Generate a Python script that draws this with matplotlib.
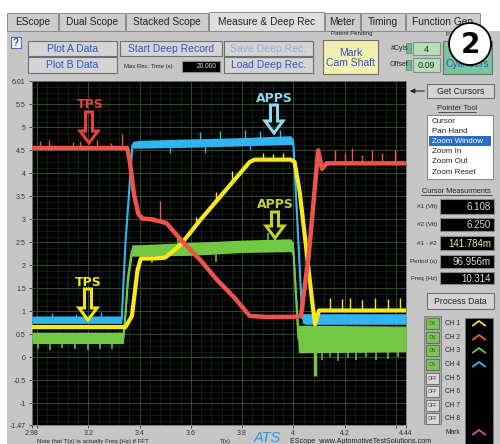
import matplotlib.pyplot as plt
from matplotlib.patches import Rectangle, Circle, Polygon
from matplotlib.ticker import MultipleLocator
import numpy as np

plt.rcParams['font.family'] = ['Liberation Sans', 'DejaVu Sans']

# ---- scope traces: time (s) and volts ----
# CH2 red, TPS signal 1
red_t = [2.98, 3.352, 3.362, 3.378, 3.395, 3.41, 3.45, 3.505, 3.57, 3.64, 3.70, 3.77, 3.83,
         3.90, 4.00, 4.03, 4.06, 4.097, 4.112, 4.13, 4.25, 4.44]
red_v = [4.55, 4.55, 4.25, 3.55, 3.12, 3.02, 3.0, 2.92, 2.5, 2.1, 1.7, 1.3, 0.9,
         0.88, 0.88, 0.9, 2.2, 4.5, 4.1, 4.22, 4.22, 4.22]
red_spk_t = [3.011, 3.046, 3.14, 3.168, 3.234, 3.29, 3.332, 3.48, 4.164, 4.203, 4.23, 4.269, 4.308, 4.347, 4.398]
red_spk_v = [4.7, 4.72, 4.68, 4.7, 4.72, 4.66, 4.85, 3.4, 4.5, 4.45, 4.55, 4.4, 4.5, 4.45, 4.5]

# CH4 blue, APPS signal 1 (noise band low / high)
blue_t = [2.98, 3.33, 3.345, 3.372, 3.40, 3.60, 3.80, 3.99, 4.00, 4.035, 4.05, 4.44]
blue_lo = [0.74, 0.74, 2.5, 4.55, 4.55, 4.57, 4.6, 4.63, 4.6, 0.75, 0.72, 0.72]
blue_hi = [0.9, 0.9, 2.5, 4.7, 4.72, 4.75, 4.78, 4.82, 4.75, 0.95, 0.95, 0.95]
blue_spk_t = [3.06, 3.15, 3.25, 3.52, 3.636, 3.656, 3.714, 3.812, 3.832, 3.87, 3.95]
blue_spk_v = [0.97, 0.95, 0.98, 4.45, 4.9, 4.45, 4.92, 4.95, 4.5, 4.93, 4.95]

# CH1 yellow, TPS signal 2
yel_t = [2.98, 3.345, 3.37, 3.392, 3.405, 3.45, 3.50, 3.56, 3.636, 3.83, 3.85, 3.99, 4.005,
         4.025, 4.05, 4.074, 4.085, 4.1, 4.44]
yel_v = [0.66, 0.66, 0.9, 1.9, 2.15, 2.15, 2.17, 2.45, 2.98, 4.25, 4.3, 4.3, 4.25,
         3.6, 2.4, 1.2, 0.72, 1.02, 1.02]
yel_spk_t = [3.62, 3.70, 3.76, 3.88, 3.92, 3.96, 4.144, 4.191, 4.222, 4.269, 4.32, 4.371, 4.418]
yel_spk_v = [3.05, 3.6, 4.05, 4.45, 4.42, 4.45, 1.3, 1.28, 1.3, 1.25, 1.3, 1.28, 1.3]

# CH3 green, APPS signal 2 (noise band low / high)
grn_t = [2.98, 3.336, 3.342, 3.355, 3.37, 3.40, 3.60, 3.80, 3.99, 4.00, 4.02, 4.035, 4.44]
grn_lo = [0.3, 0.3, 0.6, 1.6, 2.2, 2.2, 2.22, 2.28, 2.3, 2.2, 0.1, 0.1, 0.12]
grn_hi = [0.55, 0.55, 0.9, 1.9, 2.45, 2.45, 2.5, 2.55, 2.58, 2.5, 0.7, 0.7, 0.68]
grn_spk_t = [3.003, 3.05, 3.097, 3.148, 3.199, 3.246, 3.293, 3.45, 3.55, 3.70, 3.90,
             4.085, 4.113, 4.144, 4.175, 4.214, 4.246, 4.285, 4.324, 4.371, 4.41]
grn_spk_v = [0.18, 0.17, 0.2, 0.18, 0.17, 0.19, 0.18, 2.05, 2.62, 2.08, 2.7,
             -0.4, -0.05, 0.0, -0.08, -0.02, -0.06, 0.0, -0.05, -0.03, 0.0]

x_ticks = [2.98, 3.0, 3.2, 3.4, 3.6, 3.8, 4.0, 4.2, 4.4, 4.44]
x_labels = ['2.98', '', '3.2', '3.4', '3.6', '3.8', '4', '4.2', '', '4.44']
y_ticks = [-1.47, -1, -0.5, 0, 0.5, 1, 1.5, 2, 2.5, 3, 3.5, 4, 4.5, 5, 5.5, 6.01]
y_labels = ['-1.47', '-1', '-0.5', '0', '0.5', '1', '1.5', '2', '2.5', '3', '3.5', '4',
            '4.5', '5', '5.5', '6.01']

tabs = ['EScope', 'Dual Scope', 'Stacked Scope', 'Measure & Deep Rec', 'Meter', 'Timing', 'Function Gen']
tab_x = [7, 59, 126, 209, 325, 361, 406, 481]
pointer_items = ['Cursor', 'Pan Hand', 'Zoom Window', 'Zoom In', 'Zoom Out', 'Zoom Reset']
meas_labels = ['#1 (Vlt)', '#2 (Vlt)', '#1 - #2', 'Period (s)', 'Freq (Hz)']
meas_values = ['6.108', '6.250', '141.784m', '96.956m', '10.314']
channels = ['CH 1', 'CH 2', 'CH 3', 'CH 4', 'CH 5', 'CH 6', 'CH 7', 'CH 8']
ch_on = [True, True, True, True, False, False, False, False]
ch_colors = ['#f2e23a', '#ee5a55', '#74c84a', '#3ab8ee']

RED, BLUE, YEL, GRN = '#f0524c', '#2fb6f0', '#f8e81c', '#72c842'
GREY = '#c6c6c6'

W, H = 500, 444
fig = plt.figure(figsize=(5, 4.44), dpi=100)
fig.patch.set_facecolor('white')

bg = fig.add_axes([0, 0, 1, 1], zorder=0)
bg.set_xlim(0, W)
bg.set_ylim(H, 0)
bg.axis('off')
bg.add_patch(Rectangle((7, 31), W - 7, H - 31, fc=GREY, ec='none'))

# ---- scope plot ----
ax = fig.add_axes([32 / W, 19 / H, 374 / W, 344 / H], zorder=1)
ax.set_facecolor('black')
ax.set_xlim(2.98, 4.44)
ax.set_ylim(-1.47, 6.01)
ax.set_xticks(x_ticks)
ax.set_xticklabels(x_labels)
ax.set_yticks(y_ticks)
ax.set_yticklabels(y_labels)
ax.xaxis.set_minor_locator(MultipleLocator(0.04))
ax.yaxis.set_minor_locator(MultipleLocator(0.125))
ax.tick_params(which='major', labelsize=5, colors='#333333', length=2.5, width=0.6, pad=2)
ax.tick_params(axis='x', which='major', pad=1)
ax.tick_params(which='minor', length=0)
ax.grid(which='major', color='#2f4f2a', lw=0.7)
ax.grid(which='minor', color='#1a2e18', lw=0.45)
ax.set_axisbelow(True)
for s in ax.spines.values():
    s.set_color('#777777')
    s.set_linewidth(0.6)

# green
ax.fill_between(grn_t, grn_lo, grn_hi, color=GRN, lw=0, zorder=3)
ax.plot(grn_t, (np.array(grn_lo) + np.array(grn_hi)) / 2, color=GRN, lw=1.5, zorder=3)
base = np.interp(grn_spk_t, grn_t, (np.array(grn_lo) + np.array(grn_hi)) / 2)
ax.vlines(grn_spk_t, base, grn_spk_v, color=GRN, lw=1.1, zorder=3)
ax.vlines([4.085], 0.3, -0.4, color=GRN, lw=2.5, zorder=3)
# blue
ax.fill_between(blue_t, blue_lo, blue_hi, color=BLUE, lw=0, zorder=4)
ax.plot(blue_t, (np.array(blue_lo) + np.array(blue_hi)) / 2, color=BLUE, lw=1.5, zorder=4)
base = np.interp(blue_spk_t, blue_t, (np.array(blue_lo) + np.array(blue_hi)) / 2)
ax.vlines(blue_spk_t, base, blue_spk_v, color=BLUE, lw=1.0, zorder=4)
# yellow
ax.plot(yel_t, yel_v, color=YEL, lw=3, zorder=5, solid_joinstyle='round')
base = np.interp(yel_spk_t, yel_t, yel_v)
ax.vlines(yel_spk_t, base, yel_spk_v, color=YEL, lw=1.0, zorder=5)
# red
ax.plot(red_t, red_v, color=RED, lw=3.2, zorder=6, solid_joinstyle='round')
base = np.interp(red_spk_t, red_t, red_v)
ax.vlines(red_spk_t, base, red_spk_v, color=RED, lw=1.0, zorder=6)

# ---- UI overlay (pixel coordinates) ----
ui = fig.add_axes([0, 0, 1, 1], zorder=2)
ui.set_xlim(0, W)
ui.set_ylim(H, 0)
ui.axis('off')


def button(x0, y0, x1, y1, text, fc='#d4d4d4', tc='#2a56c8', fs=7.5, ec='#6e6e6e', ty=None):
    ui.add_patch(Rectangle((x0, y0), x1 - x0, y1 - y0, fc=fc, ec=ec, lw=0.8))
    if ty is None:
        ty = (y0 + y1) / 2 + 0.5
    ui.text((x0 + x1) / 2, ty, text, color=tc, fontsize=fs,
            ha='center', va='center', linespacing=1.0)


def field(x0, y0, x1, y1, text, tc='#dcdccc', fs=7, fc='black', center=False):
    ui.add_patch(Rectangle((x0, y0), x1 - x0, y1 - y0, fc=fc, ec='#8a8a8a', lw=0.8))
    if center:
        ui.text((x0 + x1) / 2, (y0 + y1) / 2 + 0.5, text, color=tc, fontsize=fs, ha='center', va='center')
    else:
        ui.text(x1 - 3, (y0 + y1) / 2 + 0.5, text, color=tc, fontsize=fs, ha='right', va='center')


def hollow_arrow(xc, ytop, ybot, color):
    sw, hw, hl = 3.5, 9, 12
    pts = [(xc - sw, ytop), (xc + sw, ytop), (xc + sw, ybot - hl), (xc + hw, ybot - hl),
           (xc, ybot), (xc - hw, ybot - hl), (xc - sw, ybot - hl)]
    ui.add_patch(Polygon(pts, closed=True, fill=False, ec=color, lw=2.2, joinstyle='miter'))


# tabs
for i, name in enumerate(tabs):
    x0, x1 = tab_x[i], tab_x[i + 1] - 1
    active = name.startswith('Measure')
    ui.add_patch(Rectangle((x0, 12 if active else 13), x1 - x0, 19 if active else 18,
                           fc='#dedede' if active else '#cdcdcd', ec='#8a8a8a', lw=0.7))
    ui.text((x0 + x1) / 2, 22, name, fontsize=7.3, color='#222222', ha='center', va='center')

# top buttons
ui.add_patch(Rectangle((11, 37), 10, 11, fc='#f4f4f4', ec='#4a6ec8', lw=0.8))
ui.text(16, 42.5, '?', fontsize=7, color='#2a56c8', ha='center', va='center', fontweight='bold')
button(28, 41, 117, 56, 'Plot A Data')
button(28, 57, 117, 73, 'Plot B Data')
button(120, 41, 222, 56, 'Start Deep Record')
ui.text(124, 66.5, 'Max Rec. Time (s)', fontsize=4.3, color='#222222', va='center')
field(182, 61, 220, 72, '20.000', fs=4.8)
button(224, 41, 313, 56, 'Save Deep Rec.', tc='#9aaad8')
button(224, 57, 313, 73, 'Load Deep Rec.')
ui.text(352, 34, 'Patent Pending', fontsize=4.3, color='#222222', ha='center', va='center')
button(323, 40, 378, 74, 'Mark\nCam Shaft', fc='#f2f0b0', fs=7.5)
ui.text(391, 48, '#Cyls', fontsize=5, color='#222222', va='center')
ui.text(390, 65, 'Offset', fontsize=5, color='#222222', va='center')
for yy in (48, 65):
    ui.add_patch(Rectangle((406, yy - 5), 5, 10, fc='#6fb88a', ec='#4c8a66', lw=0.5))
field(413, 42, 440, 55, '4', tc='#222222', fs=6.5, fc='#b6e0b6', center=True)
field(413, 58, 440, 72, '0.09', tc='#222222', fs=6.5, fc='#b6e0b6', center=True)
ui.text(445, 35, 'P', fontsize=4.3, color='#222222', va='center')
button(443, 41, 492, 74, 'Cylinders', fc='#78c49c', tc='#2a56c8', fs=7.5, ty=64)
ui.add_patch(Circle((470, 44), 21, fc='white', ec='black', lw=1.3, zorder=5))
ui.text(470, 45, '2', fontsize=20, fontweight='bold', ha='center', va='center', zorder=6,
        family='DejaVu Sans')

# right panel
button(427, 84, 494, 98, 'Get Cursors', tc='#222222', fs=6.3)
ui.annotate('', xy=(407, 91), xytext=(427, 91),
            arrowprops=dict(arrowstyle='-|>', color='#222222', lw=0.8, mutation_scale=7))
ui.text(457, 108, 'Pointer Tool', fontsize=5.5, color='#222222', ha='center', va='center')
ui.plot([438, 476], [112, 112], color='#222222', lw=0.5)
ui.add_patch(Rectangle((427, 115), 66, 64, fc='white', ec='#8a8a8a', lw=0.8))
for i, item in enumerate(pointer_items):
    yy = 121 + i * 10.2
    sel = item == 'Zoom Window'
    if sel:
        ui.add_patch(Rectangle((429, yy - 5), 62, 10, fc='#2c6cc4', ec='none'))
    ui.text(432, yy, item, fontsize=5.8, color='white' if sel else '#222222', va='center')
ui.text(456, 191, 'Cursor Measurments', fontsize=5.3, color='#222222', ha='center', va='center')
ui.plot([421, 492], [195, 195], color='#222222', lw=0.5)
meas_y = [(199, 214), (218, 231), (236, 250), (255, 268), (272, 284)]
for i, (lab, val) in enumerate(zip(meas_labels, meas_values)):
    y0, y1 = meas_y[i]
    ui.text(437, (y0 + y1) / 2, lab, fontsize=4.5, color='#222222', ha='right', va='center')
    field(440, y0, 494, y1, val, tc='#f0f0b0' if i == 2 else '#dcdcd0', fs=7)
button(427, 293, 494, 309, 'Process Data', tc='#222222', fs=6.3)

# channel toggles
ui.add_patch(Rectangle((424, 316), 17, 108, fc='#a8a8a8', ec='#7a7a7a', lw=0.6))
ui.add_patch(Rectangle((465, 318), 28, 130, fc='black', ec='#7a7a7a', lw=0.6))
ch_y = [323, 337, 350, 364, 378, 391, 405, 418]
for i, ch in enumerate(channels):
    yy = ch_y[i]
    on = ch_on[i]
    ui.add_patch(Rectangle((426, yy - 5.5), 13, 11, fc='#7cc456' if on else '#d8d8d8',
                           ec='#555555', lw=0.5))
    ui.text(432.5, yy, 'ON' if on else 'OFF', fontsize=3.3, color='#2d5a20' if on else '#333333',
            ha='center', va='center')
    ui.text(445, yy, ch, fontsize=4.8, color='#222222', va='center')
    if on:
        ui.plot([473, 479, 485], [yy + 2.5, yy - 2, yy + 2.5], color=ch_colors[i], lw=1.3)
ui.text(445, 432, 'Mark', fontsize=4.8, color='#222222', va='center')
ui.plot([473, 479, 485], [434.5, 430, 434.5], color='#e040c0', lw=1.3)

# bottom texts
ui.text(37, 441, 'Note that T(s) is actually Freq (Hz) if FFT', fontsize=4.4, color='#222222', va='center')
ui.text(220, 441, 'T(s)', fontsize=4.4, color='#222222', va='center')
ui.text(254, 431, 'ATS', fontsize=10.5, color='#3496dc', va='top', fontstyle='italic')
ui.text(290, 441, 'EScope  www.AutomotiveTestSolutions.com', fontsize=5.2, color='#222222', va='center')

# trace annotations
ui.text(90, 104, 'TPS', fontsize=9, color='#e8403a', fontweight='bold', ha='center', va='center',
        family='DejaVu Sans')
hollow_arrow(89, 112, 143, '#e8403a')
ui.text(88, 282, 'TPS', fontsize=9, color='#f2e21e', fontweight='bold', ha='center', va='center',
        family='DejaVu Sans')
hollow_arrow(88, 289, 320, '#f2e21e')
ui.text(274, 98, 'APPS', fontsize=9, color='#8ed8f0', fontweight='bold', ha='center', va='center',
        family='DejaVu Sans')
hollow_arrow(274, 105, 133, '#8ed8f0')
ui.text(275, 204, 'APPS', fontsize=9, color='#c4d030', fontweight='bold', ha='center', va='center',
        family='DejaVu Sans')
hollow_arrow(275, 212, 238, '#c4d030')

fig.savefig('out.png', dpi=100)
